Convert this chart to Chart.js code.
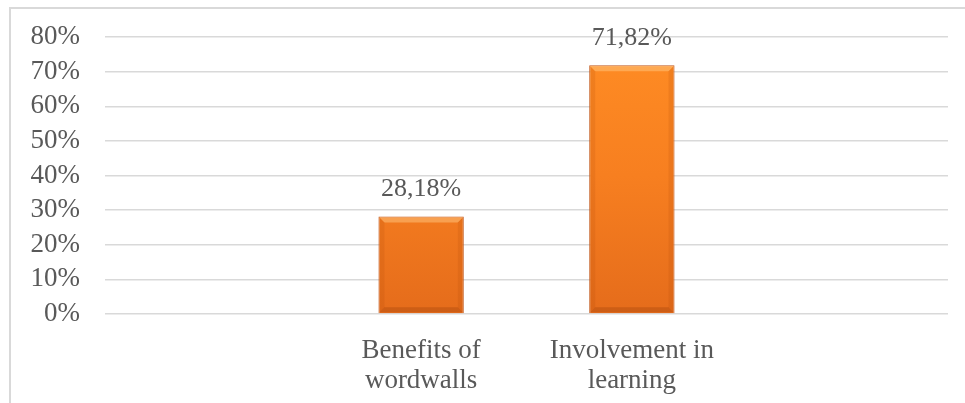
<!DOCTYPE html>
<html>
<head>
<meta charset="utf-8">
<script src="https://cdn.jsdelivr.net/npm/chart.js@4/dist/chart.umd.min.js"></script>
<style>
    html, body { margin: 0; padding: 0; background: #ffffff; }
    #wrap { position: relative; width: 965px; height: 403px; overflow: hidden; }
    #frame { position: absolute; left: 9px; top: 7px; width: 1000px; height: 500px;
             border-left: 2px solid #d9d9d9; border-top: 2px solid #d9d9d9; }
    canvas { position: absolute; left: 0; top: 0; }
</style>
</head>
<body>
<div id="wrap">
    <div id="frame"></div>
    <canvas id="barChart" width="965" height="403"></canvas>
</div>
<script>
const categories = ['', ['Benefits of', 'wordwalls'], ['Involvement in', 'learning'], ''];
const values = [null, 28.18, 71.82, null];
const valueLabels = ['', '28,18%', '71,82%', ''];
const yTicks = [0, 10, 20, 30, 40, 50, 60, 70, 80];

const textColor = '#595959';
const fontFamily = '"Liberation Serif", serif';

// soft bevel on the bars + values above them
const barDecorPlugin = {
    id: 'barDecor',
    afterDatasetsDraw(chart) {
        const ctx = chart.ctx;
        const meta = chart.getDatasetMeta(0);
        ctx.save();
        meta.data.forEach((bar, i) => {
            if (values[i] == null) return;
            const left = bar.x - bar.width / 2;
            const right = bar.x + bar.width / 2;
            const top = bar.y;
            const bottom = bar.base;
            const b = 6;
            // top bevel
            ctx.fillStyle = 'rgba(255,200,130,0.5)';
            ctx.beginPath();
            ctx.moveTo(left + 1, top + 1);
            ctx.lineTo(right - 1, top + 1);
            ctx.lineTo(right - b, top + b);
            ctx.lineTo(left + b, top + b);
            ctx.closePath();
            ctx.fill();
            // bottom bevel
            ctx.fillStyle = 'rgba(150,60,10,0.3)';
            ctx.beginPath();
            ctx.moveTo(left + 1, bottom - 1);
            ctx.lineTo(right - 1, bottom - 1);
            ctx.lineTo(right - b, bottom - b);
            ctx.lineTo(left + b, bottom - b);
            ctx.closePath();
            ctx.fill();
            // side bevels
            ctx.fillStyle = 'rgba(170,70,10,0.15)';
            ctx.beginPath();
            ctx.moveTo(left + 1, top + 1);
            ctx.lineTo(left + b, top + b);
            ctx.lineTo(left + b, bottom - b);
            ctx.lineTo(left + 1, bottom - 1);
            ctx.closePath();
            ctx.fill();
            ctx.beginPath();
            ctx.moveTo(right - 1, top + 1);
            ctx.lineTo(right - b, top + b);
            ctx.lineTo(right - b, bottom - b);
            ctx.lineTo(right - 1, bottom - 1);
            ctx.closePath();
            ctx.fill();

            ctx.fillStyle = textColor;
            ctx.font = '26px ' + fontFamily;
            ctx.textAlign = 'center';
            ctx.textBaseline = 'alphabetic';
            ctx.fillText(valueLabels[i], bar.x, bar.y - 20);
        });
        ctx.restore();
    }
};

document.addEventListener('DOMContentLoaded', () => {
    const ctx = document.getElementById('barChart').getContext('2d');

    const barFill = (context) => {
        const area = context.chart.chartArea;
        if (!area) return '#f47f20';
        const g = context.chart.ctx.createLinearGradient(0, area.top, 0, area.bottom);
        g.addColorStop(0, '#ff8d24');
        g.addColorStop(0.5, '#f77f20');
        g.addColorStop(1, '#e56c1b');
        return g;
    };

    new Chart(ctx, {
        type: 'bar',
        data: {
            labels: categories,
            datasets: [{
                data: values,
                backgroundColor: barFill,
                borderColor: '#c2571a',
                borderWidth: 1,
                categoryPercentage: 1,
                barPercentage: 0.405
            }]
        },
        options: {
            responsive: false,
            animation: false,
            events: [],
            layout: {
                padding: { left: 0, right: 17, top: 37, bottom: 0 }
            },
            scales: {
                x: {
                    grid: { display: false, drawTicks: false },
                    border: { display: false },
                    ticks: {
                        color: textColor,
                        font: { family: fontFamily, size: 27, lineHeight: 1.1 },
                        padding: 22,
                        maxRotation: 0,
                        autoSkip: false
                    },
                    afterFit(scale) {
                        scale.height = 89;
                        scale.paddingLeft = 0;
                        scale.paddingRight = 0;
                    }
                },
                y: {
                    min: 0,
                    max: 80,
                    afterBuildTicks(scale) {
                        scale.ticks = yTicks.map(v => ({ value: v }));
                    },
                    grid: { color: '#d9d9d9', lineWidth: 1.5, drawTicks: false },
                    border: { display: false },
                    ticks: {
                        color: textColor,
                        font: { family: fontFamily, size: 27 },
                        padding: 25,
                        autoSkip: false,
                        callback: v => v + '%'
                    },
                    afterFit(scale) {
                        scale.width = 105;
                        scale.paddingTop = 0;
                        scale.paddingBottom = 0;
                    }
                }
            },
            plugins: {
                legend: { display: false },
                tooltip: { enabled: false }
            }
        },
        plugins: [barDecorPlugin]
    });
});
</script>
</body>
</html>
